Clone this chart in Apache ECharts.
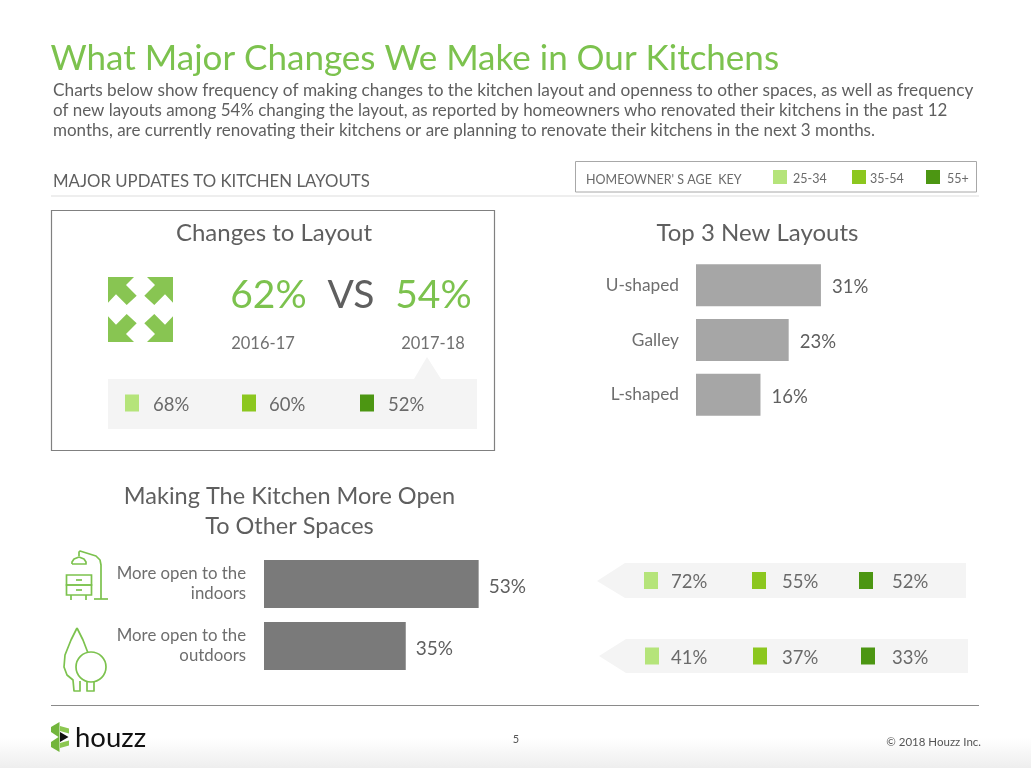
<!DOCTYPE html>
<html>
<head>
<meta charset="utf-8">
<title>What Major Changes We Make in Our Kitchens</title>
<style>
  html, body { margin: 0; padding: 0; background: #fff; }
  #main { width: 1031px; height: 768px; }
</style>
<script src="https://cdn.jsdelivr.net/npm/echarts@6/dist/echarts.min.js"></script>
</head>
<body>
<div id="main"></div>
<script>
// data
var layoutCategories = ['U-shaped', 'Galley', 'L-shaped'];
var layoutValues = [31, 23, 16];
var openCategories = ['More open to the\nindoors', 'More open to the\noutdoors'];
var openValues = [53, 35];
var ageKeys = ['25-34', '35-54', '55+'];
var changesByAge = [68, 60, 52];
var indoorsByAge = [72, 55, 52];
var outdoorsByAge = [41, 37, 33];
var yearLabels = ['2016-17', '2017-18'];
var yearValues = [62, 54];
var introLines = [
  'Charts below show frequency of making changes to the kitchen layout and openness to other spaces, as well as frequency',
  'of new layouts among 54% changing the layout, as reported by homeowners who renovated their kitchens in the past 12',
  'months, are currently renovating their kitchens or are planning to renovate their kitchens in the next 3 months.'
];

var FONT = 'Lato';
var GREEN = '#7cc24e';
var TEXT = '#5f5f5f';
var PANEL = '#f4f4f4';
var ageColors = ['#b5e47a', '#8cc71f', '#4c9612'];
var introSizes = [17.25, 16.95, 17];

var g = [];

function text(x, y, str, size, color, align) {
  g.push({
    type: 'text', x: x, y: y, silent: true,
    style: {
      text: str, fontFamily: FONT, fontSize: size, fill: color || TEXT,
      align: align || 'left', verticalAlign: 'middle'
    }
  });
}
function rect(x, y, w, h, fill, stroke, lw) {
  g.push({
    type: 'rect', silent: true,
    shape: {x: x, y: y, width: w, height: h},
    style: {fill: fill || 'none', stroke: stroke || 'none', lineWidth: lw || 0}
  });
}
function poly(points, fill) {
  g.push({type: 'polygon', silent: true, shape: {points: points}, style: {fill: fill}});
}
function line(points, color, lw) {
  g.push({
    type: 'polyline', silent: true, shape: {points: points},
    style: {fill: 'none', stroke: color, lineWidth: lw || 1.7, lineJoin: 'round'}
  });
}
function circle(cx, cy, r, color, lw) {
  g.push({
    type: 'circle', silent: true, shape: {cx: cx, cy: cy, r: r},
    style: {fill: '#fff', stroke: color, lineWidth: lw || 1.7}
  });
}

// page background fades to grey at the very bottom
g.push({
  type: 'rect', silent: true, z: -1,
  shape: {x: 0, y: 738, width: 1031, height: 30},
  style: {
    fill: new echarts.graphic.LinearGradient(0, 0, 0, 1, [
      {offset: 0, color: '#ffffff'},
      {offset: 1, color: '#eeeeee'}
    ])
  }
});

// header
text(50.5, 59, 'What Major Changes We Make in Our Kitchens', 35, GREEN);
introLines.forEach(function (s, i) {
  text(53, 90 + i * 20.3, s, introSizes[i], TEXT);
});
text(53, 182, 'MAJOR UPDATES TO KITCHEN LAYOUTS', 16.8, TEXT);
rect(51, 195.5, 928, 1, '#dddddd');

// age key
rect(575.5, 161.5, 401, 30.5, '#fff', '#a8a8a8', 1);
text(586, 179.5, "HOMEOWNER' S AGE  KEY", 12.5, '#6a6a6a');
var keySquareX = [773, 852, 926];
var keyTextX = [793, 870, 947];
ageKeys.forEach(function (k, i) {
  rect(keySquareX[i], 170, 14, 14, ageColors[i]);
  text(keyTextX[i], 178.5, k, 12.5, '#6a6a6a');
});

// changes to layout box
rect(51.5, 210.5, 443, 240, '#fff', '#808080', 1.2);
text(274, 233, 'Changes to Layout', 24, TEXT, 'center');

// four arrows icon, one arrow mirrored around the centre
var arrow = [[108, 277], [134, 277], [126, 285], [136.7, 295.7], [126.7, 305], [116, 294.3], [108, 302.7]];
[[1, 1], [-1, 1], [1, -1], [-1, -1]].forEach(function (m) {
  poly(arrow.map(function (p) {
    return [140.5 + (p[0] - 140.5) * m[0], 309.5 + (p[1] - 309.5) * m[1]];
  }), '#88c552');
});

text(268.5, 295, yearValues[0] + '%', 39, GREEN, 'center');
text(351, 295, 'VS', 39, TEXT, 'center');
text(433.5, 295, yearValues[1] + '%', 39, GREEN, 'center');
text(263, 344, yearLabels[0], 16.5, '#707070', 'center');
text(433, 344, yearLabels[1], 16.5, '#707070', 'center');

// grey callouts with the age split
function ageRow(values, squareX, textX, cy) {
  values.forEach(function (v, i) {
    rect(squareX[i], cy - 8.5, 14, 17, ageColors[i]);
    text(textX[i], cy + 2, v + '%', 18.5, '#6a6a6a');
  });
}
poly([[414, 379], [427, 357], [441, 379]], PANEL);
rect(108, 379, 369, 50, PANEL);
ageRow(changesByAge, [125, 242, 360], [153, 269, 388], 403);

poly([[625, 563], [597, 581], [625, 598]], PANEL);
rect(625, 563, 341, 35, PANEL);
ageRow(indoorsByAge, [644, 752, 859], [671, 782, 892], 580.5);

poly([[626, 639], [599, 656], [626, 673]], PANEL);
rect(626, 639, 342, 34, PANEL);
ageRow(outdoorsByAge, [645, 753, 861], [671, 782, 892], 656);

// section titles
text(757.5, 233, 'Top 3 New Layouts', 24, TEXT, 'center');
text(289.5, 496, 'Making The Kitchen More Open', 23.5, TEXT, 'center');
text(289.5, 526, 'To Other Spaces', 23.5, TEXT, 'center');

// lamp and nightstand icon
var ICON = '#7cc24e';
rect(66.5, 575, 25, 10, 'none', ICON, 1.7);
rect(66.5, 585, 25, 10, 'none', ICON, 1.7);
line([[76, 580], [82, 580]], ICON);
line([[76, 590], [82, 590]], ICON);
line([[71, 595], [71, 600]], ICON);
line([[86, 595], [86, 600]], ICON);
line([[94, 599], [108, 599]], ICON);
line([[101, 599], [101, 565], [100, 560], [96, 556], [80, 551], [79, 552], [79, 556]], ICON);
line([[72, 564], [72, 562], [74, 559], [79, 557], [84, 559], [86, 562], [86, 564], [72, 564]], ICON);

// tree icon
line([[77, 628], [71, 640], [65, 655], [64, 667], [67, 675], [73, 680], [74, 691], [80, 691], [80, 681]], ICON);
line([[77, 628], [83, 640], [88, 653]], ICON);
line([[87, 681], [87, 691], [94, 691], [94, 680]], ICON);
circle(91, 667, 15, ICON);

// footer
rect(51, 705, 928, 1, '#8a8a8a');
poly([[51, 727], [59.5, 722], [59.5, 752], [51, 747]], '#72b53c');
poly([[51, 732], [58.5, 737], [51, 742]], '#ffffff');
poly([[60, 726], [69, 728.5], [69, 733.5], [60, 731]], '#8cc751');
poly([[60, 743], [69, 740.5], [69, 745.5], [60, 748]], '#8cc751');
poly([[60, 732], [68.5, 737], [60, 742]], '#111111');
text(75, 738, 'houzz', 27.5, '#111111');
text(516, 739, '5', 11, '#555555', 'center');
text(981, 742, '\u00a9 2018 Houzz Inc.', 11.5, '#555555', 'right');

var myChart = echarts.init(document.getElementById('main'));
myChart.setOption({
  animation: false,
  backgroundColor: '#fff',
  textStyle: {fontFamily: FONT},
  grid: [
    {left: 696, top: 258, width: 201.5, height: 164, outerBoundsMode: 'none'},
    {left: 264, top: 553, width: 405, height: 124, outerBoundsMode: 'none'}
  ],
  xAxis: [
    {gridIndex: 0, type: 'value', min: 0, max: 50, show: false},
    {gridIndex: 1, type: 'value', min: 0, max: 100, show: false}
  ],
  yAxis: [
    {
      gridIndex: 0, type: 'category', inverse: true, data: layoutCategories,
      axisLine: {show: false}, axisTick: {show: false},
      axisLabel: {margin: 17, fontSize: 17.3, padding: [6, 0, 0, 0], color: '#6e6e6e', fontFamily: FONT}
    },
    {
      gridIndex: 1, type: 'category', inverse: true, data: openCategories,
      axisLine: {show: false}, axisTick: {show: false},
      axisLabel: {margin: 18, fontSize: 16.8, lineHeight: 20, padding: [8, 0, 0, 0], color: '#6e6e6e', fontFamily: FONT, align: 'right'}
    }
  ],
  series: [
    {
      type: 'bar', xAxisIndex: 0, yAxisIndex: 0, data: layoutValues, barWidth: 42,
      itemStyle: {color: '#a6a6a6'}, silent: true,
      label: {show: true, position: 'right', distance: 11, offset: [0, 2], formatter: '{c}%', fontSize: 18.5, color: TEXT, fontFamily: FONT}
    },
    {
      type: 'bar', xAxisIndex: 1, yAxisIndex: 1, data: openValues, barWidth: 48,
      itemStyle: {color: '#7a7a7a'}, silent: true,
      label: {show: true, position: 'right', distance: 10, offset: [0, 3], formatter: '{c}%', fontSize: 19, color: TEXT, fontFamily: FONT}
    }
  ],
  graphic: {elements: g}
});
</script>
</body>
</html>
